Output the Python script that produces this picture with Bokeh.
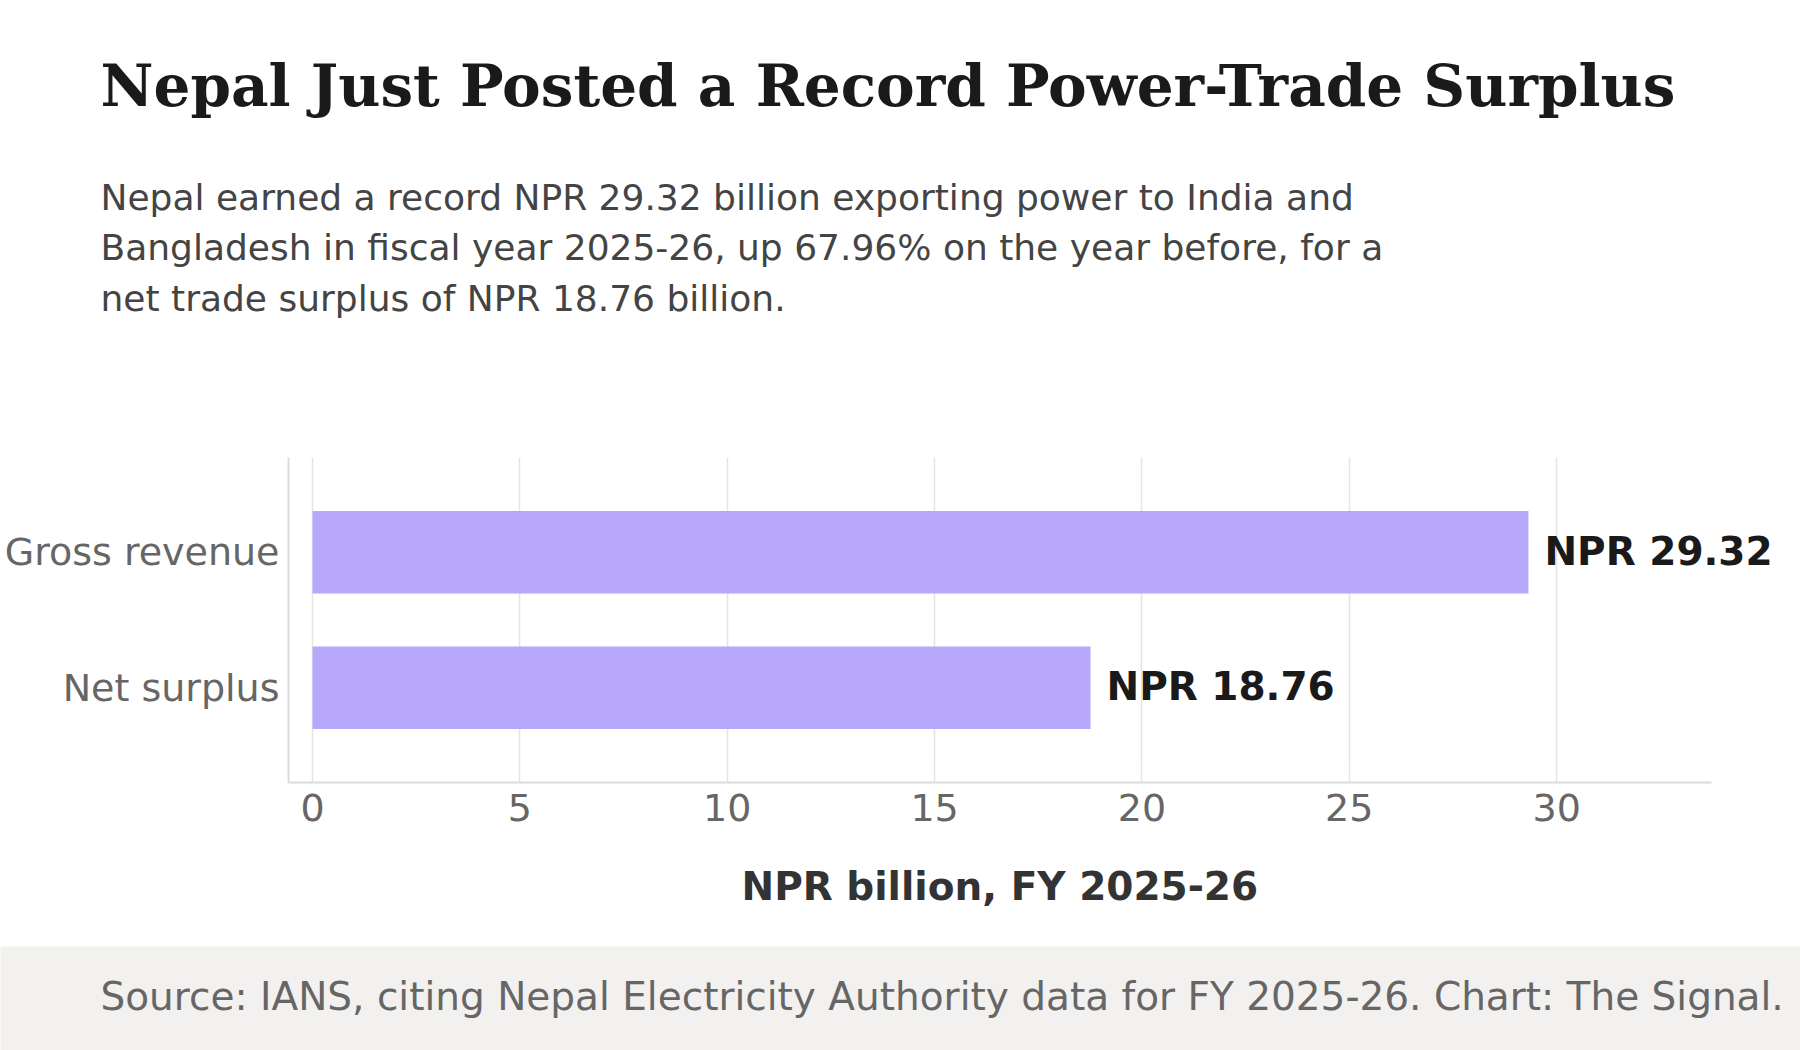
from bokeh.plotting import figure
from bokeh.models import Range1d, FactorRange, ColumnDataSource, LabelSet, Label, FixedTicker, Title
from bokeh.layouts import column
from bokeh.core.properties import value
from bokeh.embed import file_html
from bokeh.resources import INLINE

# ---- data ----
title_text = "Nepal Just Posted a Record Power-Trade Surplus"
subtitle_lines = [
    "Nepal earned a record NPR 29.32 billion exporting power to India and",
    "Bangladesh in fiscal year 2025-26, up 67.96% on the year before, for a",
    "net trade surplus of NPR 18.76 billion.",
]
source_text = "Source: IANS, citing Nepal Electricity Authority data for FY 2025-26. Chart: The Signal."
categories = ["Gross revenue", "Net surplus"]
values = [29.32, 18.76]
value_labels = ["NPR 29.32", "NPR 18.76"]
x_ticks = [0, 5, 10, 15, 20, 25, 30]
x_axis_title = "NPR billion, FY 2025-26"

# ---- style ----
W = 1800
HDR_H = 420
MAIN_H = 526
FTR_H = 104
BAR_COLOR = "#b7a8fc"
SANS = "DejaVu Sans"
SERIF = "DejaVu Serif"
X_START, X_END, AXIS_END = -0.579, 35.88, 33.73


def blank_fig(h, bg="#ffffff"):
    f = figure(width=W, height=h, x_range=Range1d(0, W), y_range=Range1d(h, 0),
               toolbar_location=None, output_backend="svg", min_border=0,
               x_axis_type=None, y_axis_type=None)
    f.grid.visible = False
    f.outline_line_color = None
    f.background_fill_color = bg
    f.border_fill_color = bg
    try:
        f.frame_align = False
    except Exception:
        pass
    return f


# ---- header ----
hdr = blank_fig(HDR_H)
hdr.add_layout(Label(x=100, y=85, text=title_text, text_font=SERIF, text_font_style="bold",
                     text_font_size="58px", text_color="#1a1a1a", text_baseline="alphabetic"))
for i, line in enumerate(subtitle_lines):
    hdr.add_layout(Label(x=100, y=196.5 + i * 50.5, text=line, text_font=SANS,
                         text_font_size="36px", text_color="#444444", text_baseline="alphabetic"))

# ---- main chart ----
src = ColumnDataSource(dict(cat=categories, val=values, lab=value_labels))
p = figure(width=W, height=MAIN_H,
           y_range=FactorRange(factors=categories[::-1], range_padding=0.2,
                               range_padding_units="absolute"),
           x_range=Range1d(X_START, X_END),
           toolbar_location=None, output_backend="svg",
           min_border_left=288, min_border_right=0, min_border_top=37, min_border_bottom=164)
p.background_fill_color = "#ffffff"
p.border_fill_color = "#ffffff"
p.outline_line_color = None

p.hbar(y="cat", right="val", left=0, height=0.61, source=src,
       fill_color=BAR_COLOR, line_color=None)

p.add_layout(LabelSet(x="val", y="cat", text="lab", source=src, x_offset=16, y_offset=1,
                      text_baseline="middle", text_font=value(SANS), text_font_style="bold",
                      text_font_size="39px", text_color="#1a1a1a"))

p.xaxis.ticker = FixedTicker(ticks=x_ticks)
p.xaxis.bounds = (X_START, AXIS_END)
p.ygrid.visible = False
p.xgrid.grid_line_color = "#e5e4df"
p.xgrid.grid_line_width = 1.5

p.axis.major_tick_line_color = None
p.axis.minor_tick_line_color = None
p.axis.major_tick_out = 0
p.axis.major_tick_in = 0
p.axis.axis_line_color = "#dcdbd5"
p.axis.axis_line_width = 2

p.xaxis.major_label_text_font = SANS
p.xaxis.major_label_text_font_size = "38px"
p.xaxis.major_label_text_color = "#666666"
p.xaxis.major_label_standoff = 11

p.yaxis.major_label_text_font = SANS
p.yaxis.major_label_text_font_size = "38px"
p.yaxis.major_label_text_color = "#666666"
p.yaxis.major_label_standoff = 9

# x-axis title, centred under the drawn axis line (which is shorter than the frame)
p.add_layout(Title(text=x_axis_title, align="left", offset=453, standoff=76,
                   text_font=SANS, text_font_size="39px", text_font_style="bold",
                   text_color="#333333"), "below")

# ---- footer ----
ftr = blank_fig(FTR_H, bg="#f2f1ef")
ftr.add_layout(Label(x=100, y=49.5, text=source_text, text_font=SANS, text_font_size="39px",
                     text_color="#666666", text_baseline="alphabetic"))

layout = column(hdr, p, ftr, spacing=0)
open("out.html", "w").write(file_html(layout, INLINE))
